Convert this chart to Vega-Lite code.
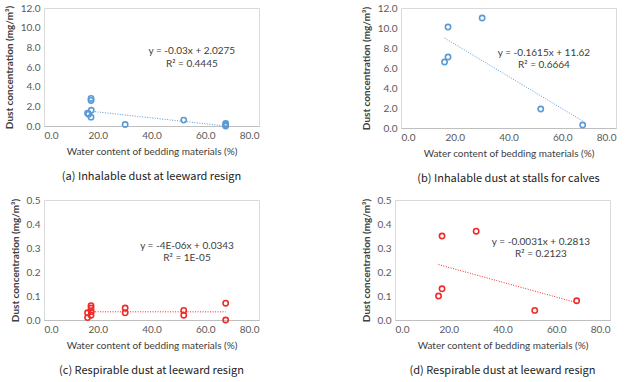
{
  "$schema": "https://vega.github.io/schema/vega-lite/v6.json",
  "padding": {"left": 3, "top": 2, "right": 5, "bottom": 0},
  "background": "white",
  "spacing": 9,
  "config": {
    "view": {"stroke": "#d9d9d9", "strokeWidth": 1},
    "font": "Lato",
    "axis": {
      "grid": false, "ticks": false, "labelFont": "Lato", "labelFontSize": 10, "labelColor": "#595959",
      "titleFont": "Lato", "titleFontSize": 10, "titleColor": "#404040", "titleFontWeight": "normal",
      "domainColor": "#bfbfbf", "labelPadding": 4, "labelOverlap": false
    },
    "axisY": {"domain": false, "titleFontWeight": "bold", "titlePadding": 6, "labelFlush": false},
    "axisX": {"titlePadding": 6},
    "title": {"font": "Noto Sans CJK KR", "fontSize": 11, "fontWeight": "normal", "color": "#222222", "orient": "bottom", "anchor": "middle", "offset": 15}
  },
  "vconcat": [
    {"hconcat": [
      {
        "width": 215, "height": 118,
        "title": "(a) Inhalable dust at leeward resign",
        "encoding": {
          "x": {"field": "x", "type": "quantitative", "scale": {"domain": [0, 80], "nice": false}, "axis": {"values": [0, 20, 40, 60, 80], "format": ".1f", "title": "Water content of bedding materials (%)"}},
          "y": {"field": "y", "type": "quantitative", "scale": {"domain": [0, 12], "nice": false}, "axis": {"values": [0, 2, 4, 6, 8, 10, 12], "format": ".1f", "title": "Dust concentration (mg/m³)"}}
        },
        "layer": [
          {"data": {"values": [
            {"x": 16.2, "y": 1.3}, {"x": 16.6, "y": 1.2}, {"x": 17.5, "y": 2.8}, {"x": 17.5, "y": 2.6},
            {"x": 17.6, "y": 1.6}, {"x": 17.5, "y": 0.9}, {"x": 30.2, "y": 0.15}, {"x": 52.0, "y": 0.6},
            {"x": 67.6, "y": 0.25}, {"x": 67.6, "y": 0.1}, {"x": 67.6, "y": 0.0}]},
           "mark": {"type": "point", "shape": "circle", "filled": false, "size": 28, "strokeWidth": 1.6, "color": "#5b9bd5", "opacity": 1}},
          {"data": {"values": [{"x": 16.2, "y": 1.54}, {"x": 67.6, "y": 0.0}]},
           "mark": {"type": "line", "color": "#5b9bd5", "strokeWidth": 1, "strokeDash": [1, 1.5]}},
          {"data": {"values": [{"x": 55, "y": 7.6, "t": "y = -0.03x + 2.0275"}, {"x": 55, "y": 6.3, "t": "R² = 0.4445"}]},
           "mark": {"type": "text", "font": "Lato", "fontSize": 10, "color": "#404040"},
           "encoding": {"text": {"field": "t"}}}
        ]
      },
      {
        "width": 215, "height": 120,
        "title": "(b) Inhalable dust at stalls for calves",
        "encoding": {
          "x": {"field": "x", "type": "quantitative", "scale": {"domain": [0, 80], "nice": false}, "axis": {"values": [0, 20, 40, 60, 80], "format": ".1f", "title": "Water content of bedding materials (%)"}},
          "y": {"field": "y", "type": "quantitative", "scale": {"domain": [0, 12], "nice": false}, "axis": {"values": [0, 2, 4, 6, 8, 10, 12], "format": ".1f", "title": "Dust concentration (mg/m³)"}}
        },
        "layer": [
          {"data": {"values": [
            {"x": 16.2, "y": 6.6}, {"x": 17.5, "y": 7.1}, {"x": 17.5, "y": 10.1}, {"x": 30.2, "y": 11.0},
            {"x": 52.0, "y": 1.9}, {"x": 67.6, "y": 0.3}]},
           "mark": {"type": "point", "shape": "circle", "filled": false, "size": 28, "strokeWidth": 1.6, "color": "#5b9bd5", "opacity": 1}},
          {"data": {"values": [{"x": 16.2, "y": 9.0}, {"x": 67.6, "y": 0.7}]},
           "mark": {"type": "line", "color": "#5b9bd5", "strokeWidth": 1, "strokeDash": [1, 1.5]}},
          {"data": {"values": [{"x": 53.2, "y": 7.5, "t": "y = -0.1615x + 11.62"}, {"x": 53.2, "y": 6.3, "t": "R² = 0.6664"}]},
           "mark": {"type": "text", "font": "Lato", "fontSize": 10, "color": "#404040"},
           "encoding": {"text": {"field": "t"}}}
        ]
      }
    ], "spacing": 100},
    {"hconcat": [
      {
        "width": 215, "height": 120,
        "title": "(c) Respirable dust at leeward resign",
        "encoding": {
          "x": {"field": "x", "type": "quantitative", "scale": {"domain": [0, 80], "nice": false}, "axis": {"values": [0, 20, 40, 60, 80], "format": ".1f", "title": "Water content of bedding materials (%)"}},
          "y": {"field": "y", "type": "quantitative", "scale": {"domain": [0, 0.5], "nice": false}, "axis": {"values": [0, 0.1, 0.2, 0.3, 0.4, 0.5], "format": ".1f", "title": "Dust concentration (mg/m³)"}}
        },
        "layer": [
          {"data": {"values": [
            {"x": 16.2, "y": 0.01}, {"x": 16.2, "y": 0.03}, {"x": 17.5, "y": 0.06}, {"x": 17.5, "y": 0.05},
            {"x": 17.6, "y": 0.035}, {"x": 17.5, "y": 0.02}, {"x": 30.2, "y": 0.05}, {"x": 30.2, "y": 0.03},
            {"x": 52.0, "y": 0.04}, {"x": 52.0, "y": 0.02}, {"x": 67.6, "y": 0.07}, {"x": 67.6, "y": 0.0}]},
           "mark": {"type": "point", "shape": "circle", "filled": false, "size": 28, "strokeWidth": 1.6, "color": "#ee2b2b", "opacity": 1}},
          {"data": {"values": [{"x": 16.2, "y": 0.0342}, {"x": 67.6, "y": 0.0340}]},
           "mark": {"type": "line", "color": "#ee2b2b", "strokeWidth": 1, "strokeDash": [1, 1.5]}},
          {"data": {"values": [{"x": 53.2, "y": 0.31, "t": "y = -4E-06x + 0.0343"}, {"x": 53.2, "y": 0.26, "t": "R² = 1E-05"}]},
           "mark": {"type": "text", "font": "Lato", "fontSize": 10, "color": "#404040"},
           "encoding": {"text": {"field": "t"}}}
        ]
      },
      {
        "width": 215, "height": 120,
        "title": "(d) Respirable dust at leeward resign",
        "encoding": {
          "x": {"field": "x", "type": "quantitative", "scale": {"domain": [0, 80], "nice": false}, "axis": {"values": [0, 20, 40, 60, 80], "format": ".1f", "title": "Water content of bedding materials (%)"}},
          "y": {"field": "y", "type": "quantitative", "scale": {"domain": [0, 0.5], "nice": false}, "axis": {"values": [0, 0.1, 0.2, 0.3, 0.4, 0.5], "format": ".1f", "title": "Dust concentration (mg/m³)"}}
        },
        "layer": [
          {"data": {"values": [
            {"x": 16.2, "y": 0.10}, {"x": 17.5, "y": 0.13}, {"x": 17.5, "y": 0.35}, {"x": 30.2, "y": 0.37},
            {"x": 52.0, "y": 0.04}, {"x": 67.6, "y": 0.08}]},
           "mark": {"type": "point", "shape": "circle", "filled": false, "size": 28, "strokeWidth": 1.6, "color": "#ee2b2b", "opacity": 1}},
          {"data": {"values": [{"x": 16.2, "y": 0.231}, {"x": 67.6, "y": 0.072}]},
           "mark": {"type": "line", "color": "#ee2b2b", "strokeWidth": 1, "strokeDash": [1, 1.5]}},
          {"data": {"values": [{"x": 54.3, "y": 0.325, "t": "y = -0.0031x + 0.2813"}, {"x": 54.3, "y": 0.275, "t": "R² = 0.2123"}]},
           "mark": {"type": "text", "font": "Lato", "fontSize": 10, "color": "#404040"},
           "encoding": {"text": {"field": "t"}}}
        ]
      }
    ], "spacing": 100}
  ]
}
